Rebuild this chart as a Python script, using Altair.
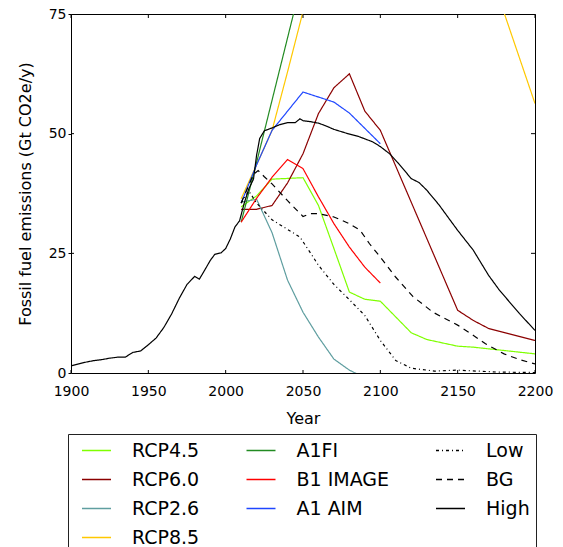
import altair as alt
import pandas as pd

# ---------------- data ----------------
high_years = [1900, 1905, 1910, 1915, 1920, 1925, 1930, 1935, 1940, 1945, 1950, 1955,
              1960, 1965, 1970, 1975, 1980, 1983, 1987, 1990, 1993, 1997, 2000, 2003,
              2006, 2009, 2012, 2015, 2018, 2020, 2022, 2025, 2030, 2035, 2040, 2045,
              2048, 2050, 2055, 2060, 2065, 2070, 2078, 2086, 2095, 2100, 2106, 2112,
              2120, 2125, 2130, 2138, 2145, 2150, 2160, 2170, 2177, 2190, 2200]
high_vals = [1.5, 1.9, 2.3, 2.6, 2.8, 3.1, 3.3, 3.3, 4.3, 4.6, 5.9, 7.3,
             9.5, 12.3, 15.6, 18.5, 20.2, 19.6, 21.8, 23.5, 24.8, 25.1, 26.0, 28.0,
             30.5, 31.8, 35.5, 38.5, 40.5, 45.5, 49.0, 50.6, 51.2, 51.9, 52.3, 52.3,
             53.1, 52.7, 52.5, 52.2, 51.6, 50.9, 50.1, 49.4, 48.3, 47.3, 45.8, 43.7,
             40.6, 39.8, 38.2, 35.1, 32.0, 29.8, 25.7, 20.4, 17.3, 12.4, 8.9]

bg_years = [2010, 2014, 2018, 2021, 2025, 2030, 2040, 2050, 2055, 2060, 2070, 2080,
            2087, 2093, 2100, 2110, 2121, 2134, 2150, 2160, 2168, 2180, 2190, 2200]
bg_vals = [35.5, 38.5, 41.5, 42.3, 41.0, 39.5, 36.0, 32.7, 33.3, 33.3, 32.6, 31.2,
           29.8, 27.0, 24.2, 20.0, 16.0, 12.7, 10.0, 7.9, 6.1, 4.0, 2.8, 1.9]

low_years = [2010, 2015, 2020, 2030, 2040, 2048, 2055, 2060, 2070, 2080, 2090, 2100,
             2110, 2120, 2135, 2150, 2175, 2200]
low_vals = [35.5, 38.0, 35.5, 32.0, 30.0, 28.4, 25.0, 22.5, 18.5, 15.3, 12.0, 6.8,
            2.6, 1.0, 0.4, 0.6, 0.2, 0.1]

rcp45_years = [2010, 2020, 2030, 2050, 2060, 2070, 2080, 2090, 2100, 2120, 2130, 2150, 2160, 2200]
rcp45_vals = [34.7, 37.0, 40.5, 40.8, 35.0, 26.0, 16.9, 15.4, 15.0, 8.4, 7.0, 5.6, 5.4, 4.0]

rcp60_years = [2010, 2020, 2030, 2040, 2050, 2060, 2070, 2080, 2090, 2100, 2150, 2160, 2170, 2200]
rcp60_vals = [34.2, 34.2, 35.0, 39.7, 45.8, 54.2, 59.6, 62.5, 54.7, 50.7, 13.1, 11.0, 9.3, 6.8]

rcp26_years = [2010, 2020, 2030, 2040, 2050, 2060, 2070, 2080, 2090, 2100]
rcp26_vals = [35.7, 36.3, 29.3, 19.4, 12.7, 7.5, 2.9, 0.6, -1.0, -1.5]

rcp85_years = [2010, 2020, 2030, 2040, 2050, 2060, 2080, 2100, 2150, 2175, 2200]
rcp85_vals = [36.4, 43.5, 50.7, 62.9, 75.5, 86.0, 100.0, 110.0, 102.0, 80.0, 56.3]

a1fi_years = [2010, 2020, 2030, 2040, 2050, 2100]
a1fi_vals = [31.5, 44.0, 57.0, 70.0, 83.0, 130.0]

b1_years = [2010, 2020, 2030, 2040, 2050, 2060, 2070, 2080, 2090, 2100]
b1_vals = [31.5, 36.5, 40.9, 44.6, 42.7, 36.8, 31.2, 26.3, 22.1, 18.8]

a1aim_years = [2010, 2020, 2030, 2050, 2070, 2080, 2100]
a1aim_vals = [35.5, 43.5, 50.7, 58.7, 56.6, 54.3, 47.9]

x_ticks = [1900, 1950, 2000, 2050, 2100, 2150, 2200]
y_ticks = [0, 25, 50, 75]

# domain order chosen so that Vega's 3-column legend grid shows
# col 1: RCP4.5, RCP6.0, RCP2.6, RCP8.5 / col 2: A1FI, B1 IMAGE, A1 AIM / col 3: Low, BG, High
legend_order = ["RCP4.5", "RCP6.0", "RCP2.6", "High",
                "A1FI", "B1 IMAGE", "A1 AIM", "RCP8.5",
                "Low", "BG"]
colors = {"RCP4.5": "#7FFF00", "RCP6.0": "#8B0000", "RCP2.6": "#5F9EA0",
          "RCP8.5": "#FFC800", "A1FI": "#228B22", "B1 IMAGE": "#FF0000",
          "A1 AIM": "#1E46FF", "Low": "#000000", "BG": "#000000", "High": "#000000"}
dashes = {"RCP4.5": [1, 0], "RCP6.0": [1, 0], "RCP2.6": [1, 0], "RCP8.5": [1, 0],
          "A1FI": [1, 0], "B1 IMAGE": [1, 0], "A1 AIM": [1, 0],
          "Low": [3, 3, 1, 3], "BG": [6, 5], "High": [1, 0]}

series = [("RCP4.5", rcp45_years, rcp45_vals), ("RCP6.0", rcp60_years, rcp60_vals),
          ("RCP2.6", rcp26_years, rcp26_vals), ("RCP8.5", rcp85_years, rcp85_vals),
          ("A1FI", a1fi_years, a1fi_vals), ("B1 IMAGE", b1_years, b1_vals),
          ("A1 AIM", a1aim_years, a1aim_vals), ("Low", low_years, low_vals),
          ("BG", bg_years, bg_vals), ("High", high_years, high_vals)]

rows = []
for name, ys, vs in series:
    for yr, v in zip(ys, vs):
        rows.append({"series": name, "year": yr, "value": v})
df = pd.DataFrame(rows)

W, H = 464, 359

xscale = alt.Scale(domain=[1900, 2200], nice=False, zero=False)
yscale = alt.Scale(domain=[0, 75], nice=False, zero=True)

legend = alt.Legend(orient="none", legendX=-3, legendY=420, columns=3, title=None,
                    labelFontSize=19, labelColor="black", symbolSize=841,
                    symbolStrokeWidth=1.5, symbolOffset=7, labelOffset=20,
                    columnPadding=38.5, rowPadding=8, padding=6, clipHeight=21,
                    strokeColor="#222222", symbolType="stroke", gridAlign="each")

lines = alt.Chart(df).mark_line(clip=True, strokeWidth=1.2).encode(
    x=alt.X("year:Q", scale=xscale,
            axis=alt.Axis(values=x_ticks, format="d", ticks=False, labelPadding=11,
                          labelFlush=False, labelOverlap=False,
                          title="Year", titleFontSize=16, titleFontWeight="normal",
                          titlePadding=12, labelFontSize=14, domain=False, grid=False,
                          labelColor="black", titleColor="black")),
    y=alt.Y("value:Q", scale=yscale,
            axis=alt.Axis(values=y_ticks, ticks=True, tickSize=3, tickColor="black",
                          labelFlush=False, labelOverlap=False,
                          labelPadding=2, title="Fossil fuel emissions (Gt CO2e/y)",
                          titleFontSize=16, titleFontWeight="normal", titlePadding=15,
                          labelFontSize=14, domain=False, grid=False,
                          labelColor="black", titleColor="black")),
    color=alt.Color("series:N", scale=alt.Scale(domain=legend_order,
                                                range=[colors[s] for s in legend_order]),
                    legend=legend),
    strokeDash=alt.StrokeDash("series:N", scale=alt.Scale(domain=legend_order,
                                                          range=[dashes[s] for s in legend_order]),
                              legend=legend),
    detail="series:N",
    order="year:Q",
)

xt = pd.DataFrame({"year": x_ticks})
yt = pd.DataFrame({"value": [25, 50]})

bottom_ticks = alt.Chart(xt).mark_rule(color="black", strokeWidth=1).encode(
    x=alt.X("year:Q", scale=xscale), y=alt.value(H), y2=alt.value(H - 3))
top_ticks = alt.Chart(xt).mark_rule(color="black", strokeWidth=1).encode(
    x=alt.X("year:Q", scale=xscale), y=alt.value(0), y2=alt.value(4))
left_ticks = alt.Chart(yt).mark_rule(color="black", strokeWidth=1).encode(
    y=alt.Y("value:Q", scale=yscale), x=alt.value(0), x2=alt.value(3))
right_ticks = alt.Chart(yt).mark_rule(color="black", strokeWidth=1).encode(
    y=alt.Y("value:Q", scale=yscale), x=alt.value(W), x2=alt.value(W - 4))

chart = alt.layer(lines, bottom_ticks, top_ticks, left_ticks, right_ticks).properties(
    width=W, height=H,
    autosize=alt.AutoSizeParams(type="none"),
    padding={"left": 71, "top": 14, "right": 563 - 71 - W, "bottom": 547 - 14 - H},
    background="white",
).configure(font="DejaVu Sans").configure_view(stroke="black", strokeWidth=1)

chart.save("out.html", embed_options={"renderer": "svg", "actions": False})
